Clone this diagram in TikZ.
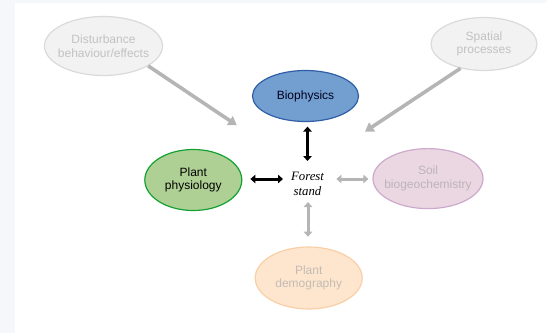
\documentclass[tikz,border=0pt]{standalone}
\usepackage{fontspec}
\setmainfont{Liberation Sans}
\newfontfamily\serifit{Liberation Serif}
\usetikzlibrary{shapes.geometric,arrows.meta}
\definecolor{bgstrip}{HTML}{F5F7FA}
\definecolor{fadefill}{HTML}{F2F2F2}
\definecolor{fadedraw}{HTML}{DADADA}
\definecolor{fadetext}{HTML}{C2C2C2}
\definecolor{biofill}{HTML}{729FCF}
\definecolor{biodraw}{HTML}{2F5EA8}
\definecolor{physfill}{HTML}{AFD095}
\definecolor{physdraw}{HTML}{12A232}
\definecolor{soilfill}{HTML}{EAD7E2}
\definecolor{soildraw}{HTML}{CDAACB}
\definecolor{soiltext}{HTML}{BDB3BB}
\definecolor{demofill}{HTML}{FEE6CE}
\definecolor{demodraw}{HTML}{F9CFA6}
\definecolor{demotext}{HTML}{C4BCB4}
\definecolor{arrgray}{HTML}{B5B5B5}
\tikzset{
  oval/.style={ellipse, inner sep=0pt, line width=1.2pt},
  ovaltext/.style={align=center, inner sep=0pt,
    font=\fontsize{12}{13.6}\selectfont},
  blk/.style={draw=black, line width=3pt,
    {Triangle[length=5pt,width=8.5pt]}-{Triangle[length=5pt,width=8.5pt]}},
  gry/.style={draw=arrgray, line width=3pt,
    {Triangle[length=5pt,width=8.5pt]}-{Triangle[length=5pt,width=8.5pt]}},
  gryd/.style={draw=arrgray, line width=3.6pt,
    -{Triangle[length=8.5pt,width=10.5pt]}}
}
\begin{document}
\begin{tikzpicture}[x=1pt,y=-1pt]
\useasboundingbox (0,0) rectangle (546,333);
\fill[bgstrip] (0,0) rectangle (546,3);
\fill[bgstrip] (0,0) rectangle (14.5,333);
% nodes
\node[oval, fill=fadefill, draw=fadedraw,
  minimum width=118pt, minimum height=59pt,
  label={[ovaltext, text=fadetext]center:Disturbance\\behaviour/effects}] (dist) at (103.5,46) {};
\node[oval, fill=fadefill, draw=fadedraw,
  minimum width=106pt, minimum height=53pt,
  label={[ovaltext, text=fadetext]center:Spatial\\processes}] (spat) at (484,44) {};
\node[oval, fill=biofill, draw=biodraw,
  minimum width=106pt, minimum height=51pt,
  label={[ovaltext, text=black!88!blue]center:Biophysics}] (bio) at (305.5,96) {};
\node[oval, fill=physfill, draw=physdraw,
  minimum width=97pt, minimum height=61pt,
  label={[ovaltext, text=black]center:Plant\\physiology}] (phys) at (193.3,180) {};
\node[oval, fill=soilfill, draw=soildraw,
  minimum width=110pt, minimum height=60pt,
  label={[ovaltext, text=soiltext]center:Soil\\biogeochemistry}] (soil) at (428,178.6) {};
\node[oval, fill=demofill, draw=demodraw,
  minimum width=107pt, minimum height=62pt,
  label={[ovaltext, text=demotext]center:Plant\\demography}] (demo) at (308.7,278) {};
\node[align=center, inner sep=0pt,
  font=\serifit\itshape\fontsize{12.8}{15.3}\selectfont] (forest) at (307.5,184)
  {Forest\\stand};
% free ends
\coordinate (tipD) at (236.8,125.3);
\coordinate (tipS) at (365,131.6);
\coordinate (fN) at (307.5,161);
\coordinate (fW) at (283,179);
\coordinate (fE) at (336.4,179);
\coordinate (fS) at (308,202);
% connectors
\draw[gryd] (dist.-24) -- (tipD);
\draw[gryd] (spat.-134) -- (tipS);
\draw[blk, shorten <=4.5pt] (bio.south -| fN) -- (fN);
\draw[blk, shorten >=8pt] (fW) -- (phys.east |- fW);
\draw[gry, shorten >=4pt] (fE) -- (soil.west |- fE);
\draw[gry, shorten >=9.7pt] (fS) -- (demo.north -| fS);
\end{tikzpicture}
\end{document}
